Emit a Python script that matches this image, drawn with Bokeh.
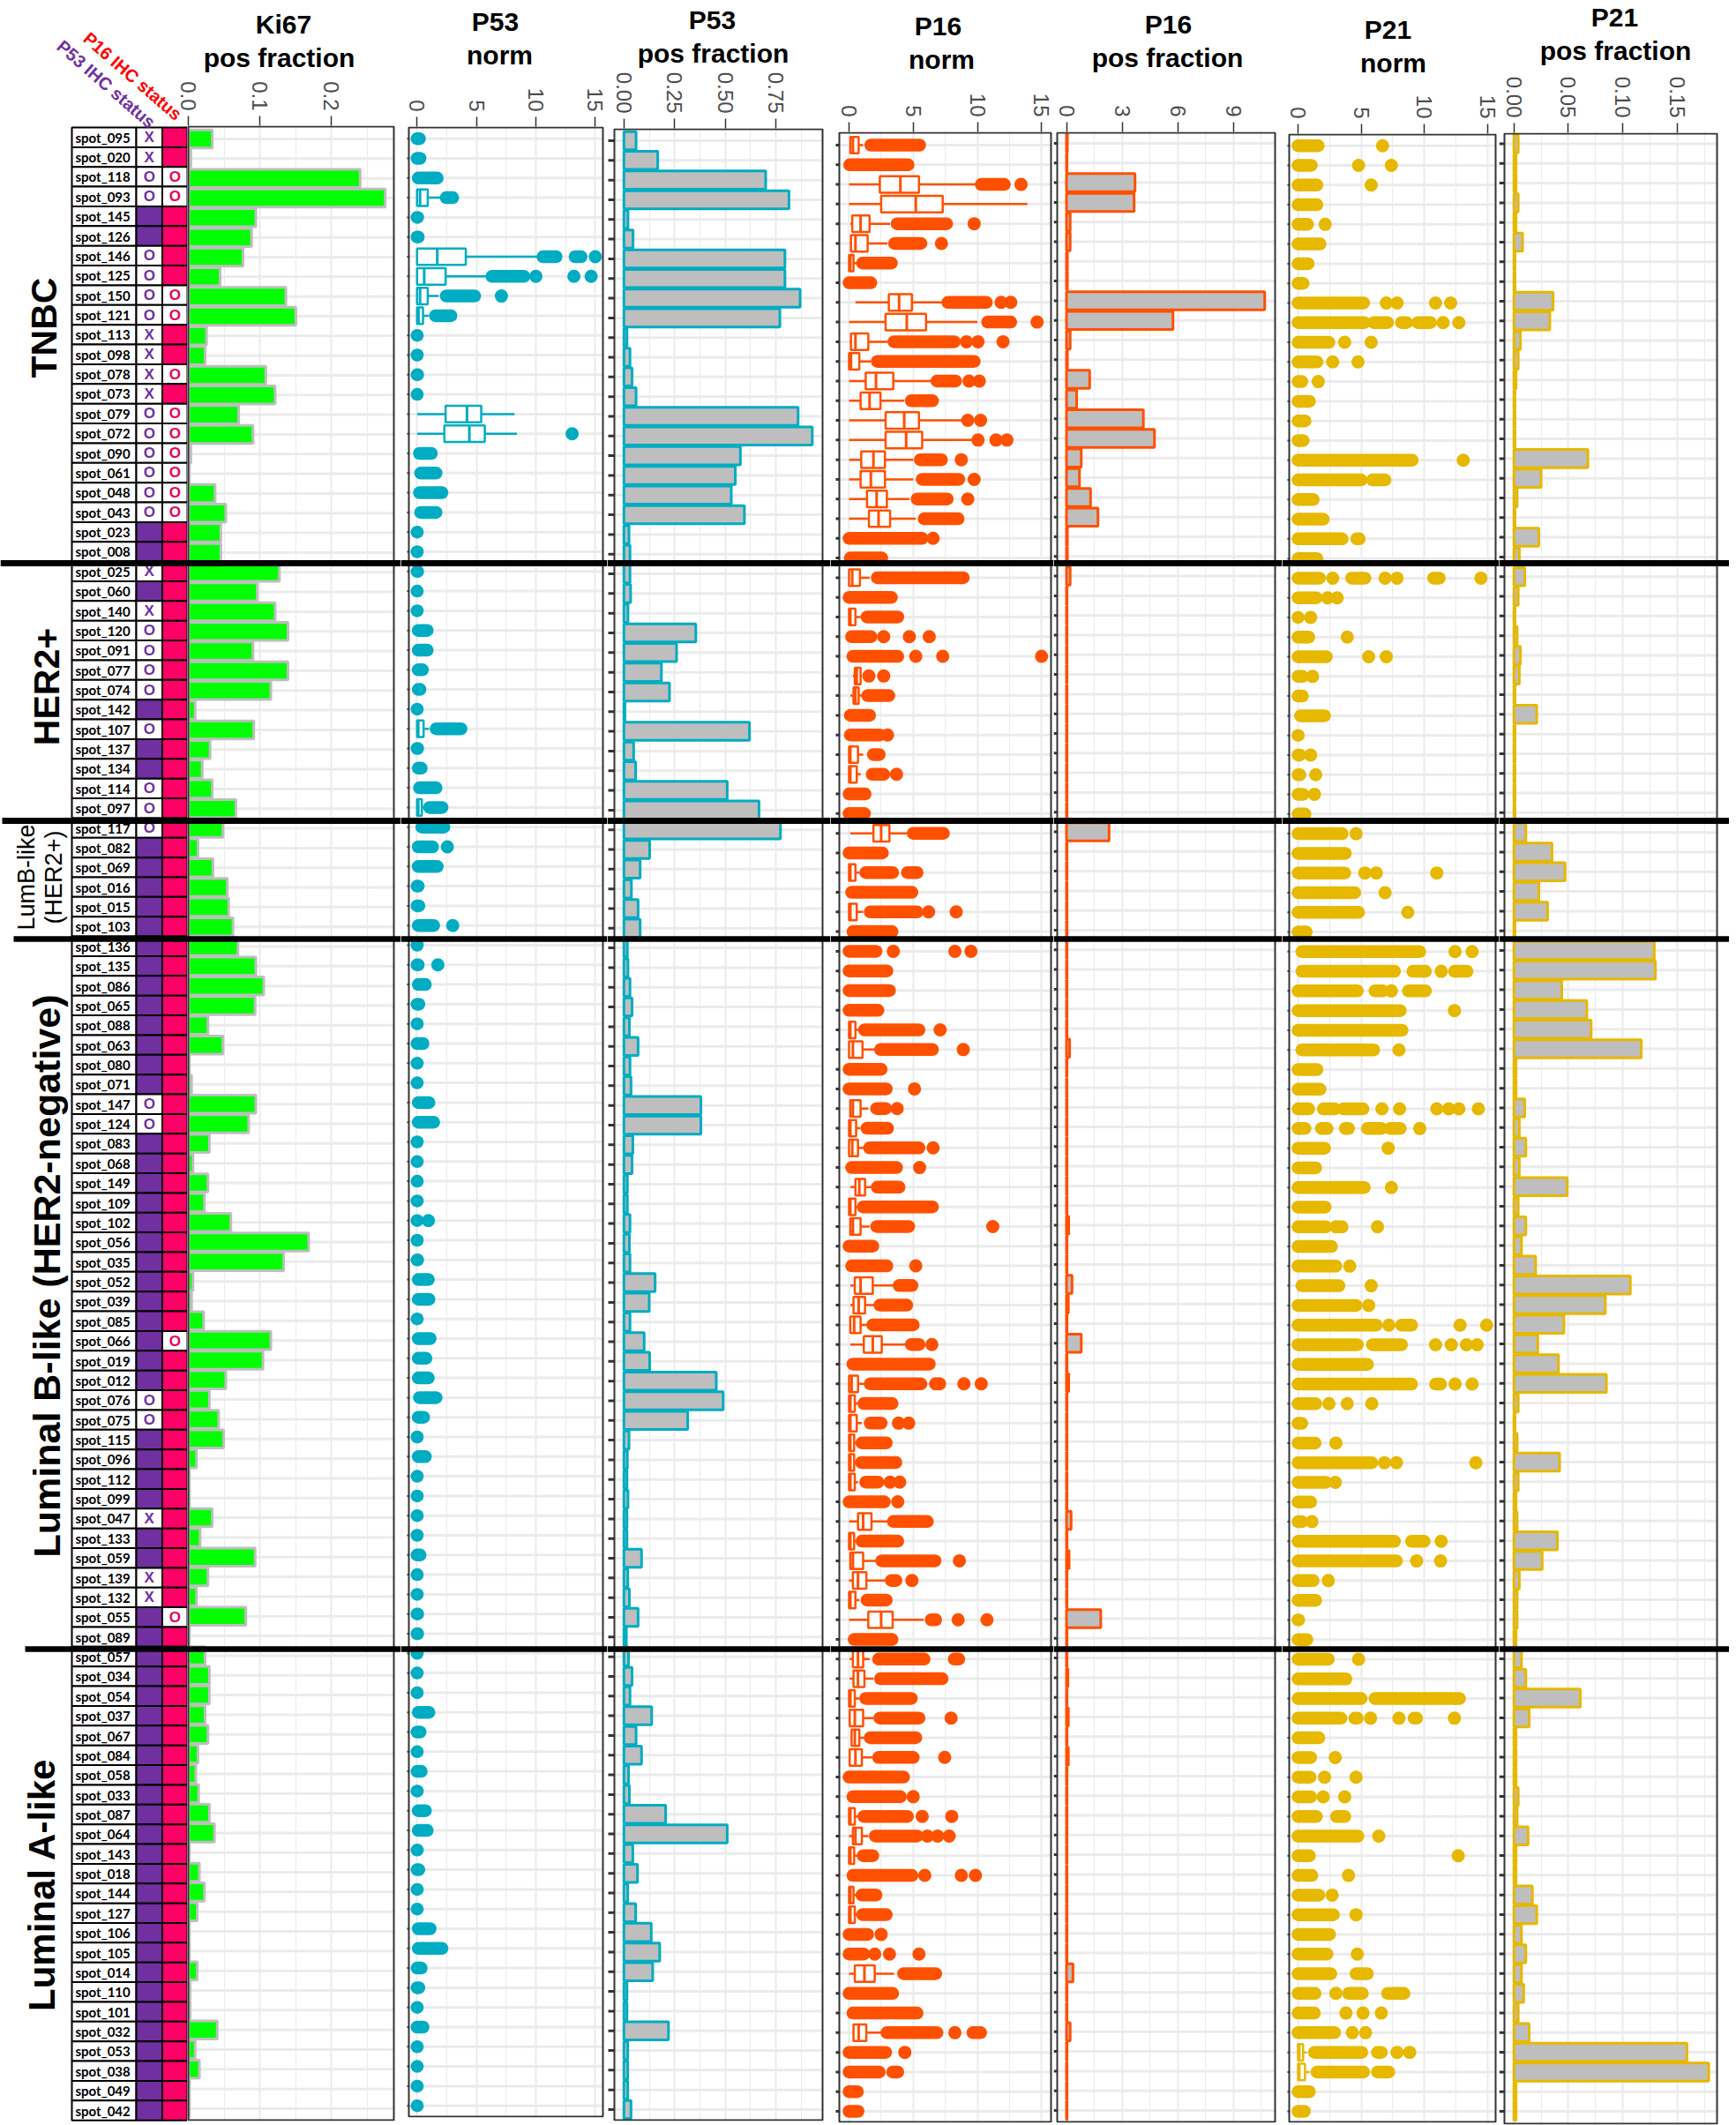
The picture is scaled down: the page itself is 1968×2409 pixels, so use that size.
import math
from bokeh.plotting import figure
from bokeh.layouts import row, column
from bokeh.models import Range1d, FixedTicker, BoxAnnotation
from bokeh.core.properties import value
from bokeh.embed import file_html
from bokeh.resources import INLINE

spots = ["095","020","118","093","145","126","146","125","150","121","113","098","078","073","079","072","090","061","048","043","023","008",
         "025","060","140","120","091","077","074","142","107","137","134","114","097",
         "117","082","069","016","015","103",
         "136","135","086","065","088","063","080","071","147","124","083","068","149","109","102","056","035","052","039","085","066","019","012","076","075","115","096","112","099","047","133","059","139","132","055","089",
         "057","034","054","037","067","084","058","033","087","064","143","018","144","127","106","105","014","110","101","032","053","038","049","042"]

p53_status = {"095":"X","020":"X","118":"O","093":"O","146":"O","125":"O","150":"O","121":"O","113":"X","098":"X","078":"X","073":"X","079":"O","072":"O","090":"O","061":"O","048":"O","043":"O",
              "025":"X","140":"X","120":"O","091":"O","077":"O","074":"O","107":"O","114":"O","097":"O","117":"O","147":"O","124":"O","076":"O","075":"O","047":"X","139":"X","132":"X"}
p16_status = {"118":"O","093":"O","150":"O","121":"O","078":"O","079":"O","072":"O","090":"O","061":"O","048":"O","043":"O","066":"O","055":"O"}

ki67_frac = [.033,.003,.24,.275,.094,.088,.076,.044,.136,.15,.025,.023,.108,.121,.07,.09,.003,.001,.037,.052,.045,.045,
             .127,.096,.121,.139,.09,.139,.115,.009,.091,.03,.019,.033,.066,
             .048,.013,.034,.054,.056,.062,
             .069,.094,.105,.093,.027,.048,.001,.004,.094,.084,.029,.006,.027,.022,.059,.168,.133,.006,.004,.021,.115,.104,.052,.029,.042,.049,.011,.001,.001,.033,.016,.093,.027,.011,.08,.001,
             .023,.029,.029,.023,.027,.013,.01,.014,.029,.036,.001,.015,.022,.012,.001,.001,.012,.002,.002,.04,.009,.015,.001,.001]

p53_frac = [.06,.167,.70,.815,.02,.045,.795,.795,.87,.77,.015,.03,.04,.06,.86,.93,.575,.55,.53,.595,.025,.03,
            .03,.033,.02,.355,.26,.185,.225,.005,.62,.048,.058,.51,.667,
            .773,.127,.08,.037,.07,.08,
            .017,.02,.03,.04,.027,.07,.03,.035,.38,.38,.044,.04,.017,.017,.03,.027,.03,.154,.125,.03,.1,.127,.456,.49,.315,.025,.017,.015,.02,.015,.015,.087,.019,.027,.07,.012,
            .023,.04,.03,.137,.06,.087,.023,.027,.206,.51,.044,.067,.019,.058,.135,.177,.142,.015,.015,.22,.019,.019,.019,.035]

p16_frac = [.05,.03,3.7,3.65,.2,.2,.05,.05,10.7,5.75,.2,.05,1.25,.55,4.15,4.75,.8,.7,1.3,1.7,.05,.05,
            .2,.03,.03,.03,.03,.03,.03,.03,.03,.03,.03,.03,.03,
            2.3,.03,.03,.03,.03,.03,
            .03,.03,.03,.03,.03,.17,.03,.03,.03,.03,.03,.03,.03,.03,.12,.03,.03,.3,.1,.03,.8,.03,.12,.03,.03,.03,.03,.03,.03,.25,.03,.14,.03,.03,1.85,.03,
            .03,.08,.03,.1,.03,.1,.03,.03,.03,.03,.03,.03,.03,.03,.03,.03,.35,.03,.03,.2,.03,.03,.03,.03]

p21_frac = [.004,.002,.002,.004,.002,.008,.001,.001,.036,.033,.006,.004,.002,.001,.001,.001,.068,.025,.003,.001,.023,.005,
            .01,.004,.001,.003,.006,.005,.001,.021,.001,.001,.001,.001,.001,
            .011,.035,.047,.023,.031,.001,
            .129,.13,.044,.067,.071,.117,.002,.002,.01,.005,.011,.005,.049,.004,.011,.007,.02,.107,.084,.046,.022,.041,.085,.004,.001,.003,.042,.004,.002,.003,.04,.026,.005,.003,.003,.002,
            .007,.011,.061,.014,.002,.002,.002,.004,.003,.013,.002,.002,.017,.021,.007,.011,.007,.009,.004,.014,.159,.179,.002,.002]

# (lower whisker, Q1, median, Q3, upper whisker), keyed by row
p53_box = {3:(0,0,.25,.9,2.0),6:(0,0,1.7,4.1,10.4),7:(0,0,.6,2.4,5.8),8:(0,0,.25,.9,1.8),9:(0,0,.12,.5,1.0),14:(0,2.4,4.2,5.4,8.2),15:(0,2.3,4.4,5.7,8.4),
           30:(0,0,.1,.55,1.0),34:(0,0,.1,.4,.6)}
p16_box = {0:(.05,.1,.3,.75,1.1),2:(0,2.4,4.0,5.45,9.9),3:(0,2.5,5.2,7.3,13.9),4:(.1,.25,.9,1.6,3.2),5:(.05,.15,.5,1.45,3.0),6:(0,0,.1,.35,.9),
           8:(.5,3.1,3.9,4.9,7.4),9:(0,2.85,4.5,6.0,10.0),10:(.05,.15,.5,1.5,3.0),11:(0,0,.15,.8,1.7),12:(0,1.3,2.1,3.45,6.6),13:(0,.9,1.6,2.45,4.3),
           14:(0,2.85,4.3,5.45,8.9),15:(0,2.85,4.45,5.7,9.6),16:(0,.95,1.9,2.8,5.0),17:(0,.9,1.7,2.8,5.0),18:(0,1.4,2.15,2.95,4.7),19:(0,1.55,2.3,3.2,5.2),
           22:(0,0,.25,.85,1.6),24:(0,0,.1,.5,.9),27:(.3,.45,.6,.9,1.0),28:(.1,.35,.5,.75,1.0),31:(0,0,.1,.7,1.1),32:(0,0,.1,.6,.9),35:(.1,1.9,2.5,3.15,4.5),
           37:(0,0,.1,.5,.8),39:(0,0,.1,.6,1.1),45:(0,0,.1,.5,.8),46:(0,0,.3,1.05,2.0),49:(.1,.1,.3,.9,1.5),50:(0,0,.1,.55,.9),51:(0,0,.25,.7,1.2),53:(.1,.5,.8,1.25,2.0),
           54:(0,0,.1,.5,.8),55:(.1,.1,.3,.9,1.6),58:(.1,.45,.9,1.85,3.4),59:(.1,.35,.75,1.25,2.1),60:(.1,.1,.4,.9,1.5),61:(.1,1.15,1.85,2.55,4.5),63:(0,0,.2,.7,1.2),
           64:(0,0,.1,.45,.8),65:(0,0,.1,.6,1.0),66:(0,0,.1,.4,.6),67:(0,0,.1,.4,.5),68:(0,0,.1,.45,.7),70:(0,.7,1.1,1.75,3.0),71:(0,0,.1,.4,.7),72:(.1,.1,.3,1.1,2.1),73:(0,.3,.7,1.35,2.9),
           74:(0,0,.1,.5,.8),75:(0,1.5,2.5,3.4,5.8),77:(.05,.3,.7,1.1,1.6),78:(.05,.35,.7,1.2,1.9),79:(0,0,.1,.45,.8),80:(.05,.05,.45,1.1,1.9),81:(.1,.2,.45,.8,1.2),82:(.05,.05,.5,1.0,1.8),
           85:(0,0,.1,.45,.7),86:(0,.3,.5,1.0,1.5),87:(0,0,.1,.4,.7),89:(0,0,.1,.35,.6),90:(0,0,.1,.45,.7),93:(0,.45,1.2,2.0,3.5),96:(.3,.35,.75,1.35,2.5)}
p21_box = {97:(0,0,.1,.4,.7),98:(0,0,.1,.55,.9)}

# outliers by row: a number is one point, a pair is a dense run of points
p53_out = [[(0,.2)],[(0,.25)],[(.1,1.7)],[(2.45,3.0)],[(0,.05)],[(0,.1)],[(10.6,11.7),(13.3,13.8),15],[(6.3,9.0),10,13.2,14.65],[(2.45,4.85),7.1],[(1.55,2.85)],[(0,.02)],[(0,.02)],[(0,.05)],[(0,.02)],[],[13.05],
           [(.2,1.2)],[(.3,1.6)],[(.2,2.1)],[(.3,1.6)],[(0,.02)],[(0,.02)],
           [(0,.05)],[(0,.02)],[(0,.02)],[(.1,.85)],[(.1,.85)],[(.1,.45)],[(.1,.25)],[(0,.02)],[(1.6,3.7)],[(0,.05)],[(.1,.35)],[(.2,1.6)],[(1.05,2.1)],
           [(.4,2.25)],[(.1,1.3),2.55],[(.1,1.7)],[(0,.1)],[(0,.15)],[(.1,1.4),3.0],
           [(0,.02)],[(0,.1),1.75],[(.1,.7)],[(0,.15)],[(0,.02)],[(0,.5)],[(0,.02)],[(0,.02)],[(.1,1.0)],[(.1,1.4)],[(0,.02)],[(0,.02)],[(0,.02)],[(0,.02)],[(0,.02),.95],[(0,.02)],[(0,.05)],[(.1,.95)],[(.1,1.0)],[(0,.02)],[(.1,1.1)],[(.1,.75)],[(.1,.95)],[(.2,1.6)],[(.1,.55)],[(0,.02)],[(.1,.7)],[(0,.02)],[(0,.02)],[(0,.02)],[(0,.02)],[(0,.25)],[(0,.02)],[(0,.02)],[(0,.05)],[(0,.05)],
           [(0,.02)],[(0,.02)],[(0,.02)],[(.1,1.0)],[(0,.25)],[(0,.02)],[(0,.35)],[(0,.02)],[(.1,.7)],[(.1,.85)],[(0,.02)],[(0,.15)],[(0,.02)],[(0,.02)],[(.1,1.1)],[(.1,2.1)],[(0,.35)],[(0,.15)],[(0,.02)],[(0,.5)],[(0,.02)],[(0,.02)],[(0,.02)],[(0,.02)]]

p16_out = [[(1.7,5.5)],[(.05,4.6)],[(10.3,12.1),13.4],[],[(3.75,7.6),9.75],[(3.55,5.6),7.2],[(1.05,3.3)],[(0,1.7)],[(7.7,10.7),11.85,12.6],[(10.8,12.6),14.65],[(3.5,8.2),9.15,10.05,12.0],[(2.2,9.75)],[(6.85,8.3),9.35,10.15],[(4.85,6.5)],[9.25,10.25],[10.05,11.45,12.3],[(5.55,7.2),8.75],[(5.7,8.55),9.75],[(5.3,7.65),9.25],[(5.85,8.5)],[(0,5.7),6.55],[(.1,2.55)],
           [(2.2,8.9)],[(0,3.3)],[(1.4,3.8)],[(.2,1.7),2.7,4.7,6.25],[(.3,3.8),5.2,7.3,15.0],[1.55,2.7],[(1.45,3.1)],[(.1,1.6)],[(.1,2.4),3.0],[(1.9,2.35)],[(1.8,2.7),3.7],[(0,1.25)],[(0,1.2)],
           [(5.0,7.35)],[(0,2.6)],[(1.3,3.4),(4.55,5.3)],[(.2,4.9)],[(1.65,5.3),6.2,8.35],[(.3,3.35)],
           [(0,2.1),3.45,8.25,9.5],[(0,2.95)],[(0,3.15)],[(0,2.25)],[(1.2,5.45),7.1],[(2.45,6.5),8.9],[(0,2.5)],[(0,2.9),5.1],[(2.15,2.85),3.75],[(1.4,3.0)],[(1.6,5.45),6.55],[(.2,3.7),5.5],[(2.2,3.9)],[(1.1,6.5)],[(2.15,4.65),11.2],[(0,1.85)],[(.2,2.95),5.2],[(3.9,4.9)],[(2.4,4.5)],[(1.85,5.0)],[(4.85,5.45),6.45],[(.3,6.25)],[(1.65,5.6),6.75,7.05,8.95,10.3],[(1.15,3.35)],[(1.65,2.5),3.85,4.65],[(1.0,2.9)],[(.95,3.65)],[(1.3,2.25),3.2,3.95],[(0,2.75),3.8],[(3.45,6.1)],[(1.0,3.8)],[(2.55,6.7),8.6],[(3.3,3.65),4.9],[(1.4,2.9)],[(6.4,6.75),8.5,10.75],[(.4,3.35)],
           [(2.3,5.85),(8.2,8.55)],[(2.45,7.25)],[(1.3,4.85)],[(2.4,5.45),7.95],[(1.65,5.2)],[(2.3,5.0),7.45],[(0,4.25)],[(.3,4.0),5.0],[(1.15,4.55),5.7,8.0],[(2.05,5.3),6.1,6.9,7.8],[(1.1,1.85)],[(.3,4.9),5.9,8.75,9.85],[(1.0,2.1)],[(1.05,2.9)],[(0,1.45),2.5],[(0,1.15),2.0,3.15,5.45],[(4.25,6.75)],[(0,3.4)],[(.3,5.3)],[(2.95,6.85),8.25,(9.65,10.25)],[(0,2.85),4.35],[(0,2.35),(3.4,3.8)],[(0,.65)],[(0,.7)]]

p21_out = [[(0,1.6),6.7],[(0,1.05),4.8,7.4],[(0,1.5),5.8],[(0,1.5)],[(0,.75),2.15],[(0,1.75)],[(0,.8)],[(0,.4)],[(0,5.2),7.0,7.85,10.9,12.1],[(0,5.25),(6.0,7.1),(8.2,8.6),(9.5,10.5),11.5,12.75],[(0,2.45),3.7,5.8],[(0,1.5),2.75,4.75],[(0,.3),1.6],[(0,.9)],[(0,.55)],[(0,.4)],[(0,9.05),13.1],[(0,5.0),(5.9,6.9)],[(0,1.2)],[(0,2.0)],[(0,3.5),(4.65,4.85)],[(0,1.5)],
           [(0,1.7),2.75,(4.25,5.3),6.9,7.85,(10.75,11.2),14.5],[(0,1.45),2.35,3.1],[(0,.02),1.0],[(0,.85),3.9],[(0,2.25),5.6,7.0],[(0,.35),1.15],[(0,.35)],[(.2,2.1)],[(0,.02)],[(0,.15),1.0],[(0,.15),1.4],[(0,.4),1.3],[(0,.55)],
           [(0,3.5),4.6],[(0,3.75)],[(0,3.7),5.3,6.2,11.0],[(0,4.5),6.9],[(0,4.8),8.7],[(0,.65)],
           [(.3,9.65),12.45,13.8],[(.3,7.65),(9.1,10.1),11.35,(12.4,13.4)],[(0,4.7),(6.1,6.7),7.4,(8.75,10.1)],[(0,8.1),12.4],[(0,8.25)],[(.3,6.0),8.0],[(0,1.5)],[(0,1.75)],[(0,.85),(2.0,2.9),(3.6,5.15),6.65,8.05,11.0,11.95,12.75,14.3],[(0,.55),(1.85,2.3),(3.75,4.0),(5.5,6.6),(7.3,8.1),9.65],[(0,2.1),7.15],[(0,1.4)],[(0,5.25),7.4],[(0,2.15)],[(0,2.2),3.0,(3.2,3.5),6.3],[(0,2.65)],[(0,3.0),4.1],[(.3,3.25),5.8],[(0,4.6),5.6],[(0,6.2),7.2,(8.2,9.0),12.85,14.95],[(0,4.7),(5.9,8.2),10.9,12.15,13.35,14.2],[(0,5.5)],[(0,9.0),(10.9,11.3),12.45,13.8],[(0,1.4),2.45,3.9,5.85],[(0,.3)],[(0,1.35),3.0],[(0,5.85),6.85,7.8,14.1],[(0,2.2),2.95],[(0,1.0)],[(0,.3),1.1],[(0,7.65),(9.0,10.0),11.35],[(0,7.8),9.4,11.3],[(0,1.2),2.4],[(0,1.4)],[(0,.05)],[(0,.7)],
           [(0,2.4),4.8],[(0,3.8)],[(0,5.0),(6.1,12.8)],[(0,3.4),(4.5,4.7),5.75,8.0,(9.2,9.4),12.4],[(0,1.65)],[(0,1.0),2.95],[(0,.95),2.1,4.6],[(0,1.0),2.0,3.7],[(0,1.45),(3.05,3.7)],[(0,4.75),6.4],[(0,.9),12.7],[(0,1.1),4.0],[(0,1.65),2.7],[(0,2.8),4.6],[(0,2.5)],[(0,2.3),4.7],[(0,2.6),(4.6,5.5)],[(0,1.35),3.0,(4.0,5.1),(7.1,8.4)],[(0,1.3),3.8,5.15,6.6],[(0,2.9),4.3,5.35],[(1.3,5.05),(6.3,6.6),7.85,8.85],[(1.5,5.2),(6.3,7.2)],[(0,.9)],[(0,.5)]]

assert all(len(a) == 101 for a in [spots, ki67_frac, p53_frac, p16_frac, p21_frac, p53_out, p16_out, p21_out])

GREEN, GRAY, TEAL, ORANGE, GOLD = "#00ff00", "#bebebe", "#00acc1", "#ff5000", "#e6b800"
PURPLE, PINK = "#7030a0", "#ff0066"
GRID = "#ebebeb"
HEIGHT = 2409
HEAD = 100        # height of the headings' strip
PANEL_TOP = 50    # the panels' canvases start here and are transparent above their frames
PANEL_LEFT = 196  # the first panel's canvas reaches back over the table, to keep its "0.0" whole
RULES = [(638, 0, 7), (930, 2, 7), (1064, 15, 6.5), (1869, 28, 6.5)]   # page y, page x of the left end, thickness


def panel(cl, cr, fl, fr, ft, fb, x0, ppu, r0, r100, ticks, minors, labels, tick_len, tick_w, cover_left=True):
    """One panel: its frame is as wide as its column, so the rules cross the gaps."""
    pitch = (r100 - r0) / 100
    top, bot = ft - 1, fb + 1
    p = figure(width=cr - cl, height=HEIGHT - PANEL_TOP,
               x_range=Range1d((cl - x0) / ppu, (cr - x0) / ppu),
               y_range=Range1d((bot - r0) / pitch, (top - r0) / pitch),
               x_axis_location="above", y_axis_type=None,
               toolbar_location=None, output_backend="svg",
               min_border_left=0, min_border_right=0,
               min_border_top=top - PANEL_TOP, min_border_bottom=HEIGHT - bot,
               background_fill_color=None, border_fill_color=None, frame_align=False)
    p.outline_line_color = None
    ax = p.xaxis[0]
    ax.ticker = FixedTicker(ticks=ticks, minor_ticks=minors)
    ax.major_label_overrides = {t: l for t, l in zip(ticks, labels)}
    ax.major_label_orientation = -math.pi / 2
    ax.major_label_text_font = "Liberation Sans"
    ax.major_label_text_font_size = "24px"
    ax.major_label_text_color = "#4d4d4d"
    ax.major_label_standoff = 6
    ax.axis_line_color = None
    ax.major_tick_line_color = "#333333"
    ax.major_tick_line_width = 1.5
    ax.major_tick_out = 11
    ax.major_tick_in = 0
    ax.minor_tick_line_color = None
    p.xgrid.grid_line_color = GRID
    p.xgrid.grid_line_width = 2
    p.xgrid.minor_grid_line_color = GRID
    p.xgrid.minor_grid_line_width = 1
    xl, xr = (fl - x0) / ppu, (fr - x0) / ppu
    rows_ = list(range(101))
    # cover the grid in the gaps on either side of the panel
    if cover_left:
        p.quad(left=(cl - x0) / ppu, right=xl, top=(top - r0) / pitch, bottom=(bot - r0) / pitch,
               fill_color="white", line_color=None, level="underlay")
    p.quad(left=xr, right=(cr - x0) / ppu, top=(top - r0) / pitch, bottom=(bot - r0) / pitch,
           fill_color="white", line_color=None, level="underlay")
    p.segment(x0=[xl] * 101, x1=[xr] * 101, y0=rows_, y1=rows_, line_color=GRID, line_width=3)
    if tick_len:
        p.segment(x0=[(fl - tick_len - x0) / ppu] * 101, x1=[xl] * 101, y0=rows_, y1=rows_,
                  line_color="#333333", line_width=tick_w)
    frame = dict(left=xl, right=xr, top=(ft - r0) / pitch, bottom=(fb - r0) / pitch)
    return p, frame


def finish(p, frame):
    p.quad(fill_color=None, line_color="#333333", line_width=2, **frame)
    for y, _, th in RULES:
        p.add_layout(BoxAnnotation(top=y - th / 2 - PANEL_TOP, bottom=y + th / 2 - PANEL_TOP,
                                   top_units="canvas", bottom_units="canvas",
                                   fill_color="black", fill_alpha=1, line_color=None, level="overlay"))


def bars(p, vals, fill, line, lw=3):
    p.hbar(y=list(range(len(vals))), left=0, right=vals, height=0.92,
           fill_color=fill, line_color=line, line_width=lw)


def boxes(p, box, outs, color):
    ys = list(box)
    st = [box[k] for k in ys]
    p.segment(x0=[s[0] for s in st], x1=[s[4] for s in st], y0=ys, y1=ys, line_color=color, line_width=2.5)
    p.quad(left=[s[1] for s in st], right=[s[3] for s in st],
           top=[y - .42 for y in ys], bottom=[y + .42 for y in ys],
           fill_color="white", line_color=color, line_width=2.5)
    p.segment(x0=[s[2] for s in st], x1=[s[2] for s in st],
              y0=[y - .42 for y in ys], y1=[y + .42 for y in ys], line_color=color, line_width=3)
    sx0, sx1, sy, dx, dy = [], [], [], [], []
    for i, items in enumerate(outs):
        for it in items:
            if isinstance(it, tuple):
                sx0.append(it[0]); sx1.append(it[1]); sy.append(i)
            else:
                dx.append(it); dy.append(i)
    p.segment(x0=sx0, x1=sx1, y0=sy, y1=sy, line_color=color, line_width=14.5, line_cap="round")
    p.scatter(x=dx, y=dy, size=15, marker="circle", fill_color=color, line_color=color, line_width=0)


# ---- left column: table, group names, legends ----
col_edges = [81, 154, 183.5, 212]
r0_t, r100_t = 155.2, 2392.0
pitch_t = (r100_t - r0_t) / 100
pt = figure(width=212, height=HEIGHT, x_range=Range1d(0, 212),
            y_range=Range1d((HEIGHT - r0_t) / pitch_t, -r0_t / pitch_t),
            x_axis_type=None, y_axis_type=None, toolbar_location=None, output_backend="svg",
            min_border_left=0, min_border_right=0, min_border_top=0, min_border_bottom=0,
            border_fill_color="white", frame_align=False)
pt.outline_line_color = None
n = len(spots)
rows = list(range(n))
pt.quad(left=col_edges[0], right=col_edges[1], top=[r - .5 for r in rows], bottom=[r + .5 for r in rows],
        fill_color="white", line_color="black", line_width=2)
pt.quad(left=col_edges[1], right=col_edges[2], top=[r - .5 for r in rows], bottom=[r + .5 for r in rows],
        fill_color=["white" if s in p53_status else PURPLE for s in spots], line_color="black", line_width=2)
pt.quad(left=col_edges[2], right=col_edges[3], top=[r - .5 for r in rows], bottom=[r + .5 for r in rows],
        fill_color=["white" if s in p16_status else PINK for s in spots], line_color="black", line_width=2)
pt.text(x=[85] * n, y=rows, text=["spot_" + s for s in spots], text_font=value("Lato"), text_font_style="bold",
        text_font_size="15px", text_baseline="middle", text_align="left", text_color="black")
k53 = [(i, p53_status[s]) for i, s in enumerate(spots) if s in p53_status]
k16 = [(i, p16_status[s]) for i, s in enumerate(spots) if s in p16_status]
pt.text(x=[(col_edges[1] + col_edges[2]) / 2] * len(k53), y=[a for a, _ in k53], text=[b for _, b in k53],
        text_font=value("Liberation Sans"), text_font_style="bold", text_font_size="17px",
        text_align="center", text_baseline="middle", text_color=PURPLE)
pt.text(x=[(col_edges[2] + col_edges[3]) / 2] * len(k16), y=[a for a, _ in k16], text=[b for _, b in k16],
        text_font=value("Liberation Sans"), text_font_style="bold", text_font_size="17px",
        text_align="center", text_baseline="middle", text_color="#e6005c")
for txt, cx, cy, size, bold, col, ang in [
        ("TNBC", 49, 371, "41px", True, "black", 90), ("HER2+", 52, 778, "41px", True, "black", 90),
        ("LumB-like", 29, 994, "27px", False, "black", 90), ("(HER2+)", 60, 994, "27px", False, "black", 90),
        ("Luminal B-like (HER2-negative)", 52, 1446, "43px", True, "black", 90),
        ("Luminal A-like", 47, 2136, "42px", True, "black", 90),
        ("P16 IHC status", 150, 86, "20px", True, "#ff0000", -41),
        ("P53 IHC status", 120, 95, "20px", True, PURPLE, -41)]:
    pt.text(x=[cx], y=[(cy - r0_t) / pitch_t], text=[txt], angle=ang, angle_units="deg",
            text_font=value("Liberation Sans"), text_font_style="bold" if bold else "normal",
            text_font_size=size, text_align="center", text_baseline="middle", text_color=col)
for y, xs, th in RULES:
    pt.add_layout(BoxAnnotation(left=xs, top=y - th / 2, bottom=y + th / 2,
                                left_units="canvas", top_units="canvas", bottom_units="canvas",
                                fill_color="black", fill_alpha=1, line_color=None, level="overlay"))

# ---- headings ----
head_x = [321, 316, 561, 566, 807, 808, 1063, 1067, 1324, 1323, 1573, 1579, 1830, 1831]
head_y = [27, 65, 24, 62, 22, 60, 29, 67, 27, 65, 33, 71, 19, 57]
head_t = ["Ki67", "pos fraction", "P53", "norm", "P53", "pos fraction", "P16", "norm",
          "P16", "pos fraction", "P21", "norm", "P21", "pos fraction"]
ph = figure(width=1960 - 212, height=HEAD, x_range=Range1d(212, 1960), y_range=Range1d(HEAD, 0),
            x_axis_type=None, y_axis_type=None, toolbar_location=None, output_backend="svg",
            min_border_left=0, min_border_right=0, min_border_top=0, min_border_bottom=0,
            border_fill_color="white", frame_align=False)
ph.outline_line_color = None
ph.text(x=head_x, y=head_y, text=head_t, text_font=value("Liberation Sans"), text_font_style="bold",
        text_font_size="30px", text_align="center", text_baseline="middle", text_color="black")

figs = []
# ---- Ki67 pos fraction ----
p, fr = panel(PANEL_LEFT, 454, 213, 446, 143, 2403, 213.4, 810, 157, 2390, [0, .1, .2], [.05, .15, .25], ["0.0", "0.1", "0.2"], 0, 0, cover_left=False)
bars(p, ki67_frac, GREEN, GRAY); finish(p, fr); figs.append(p)
# ---- P53 norm ----
p, fr = panel(454, 688, 463, 683, 144, 2399, 472.3, 13.47, 156.7, 2386.7, [0, 5, 10, 15], [2.5, 7.5, 12.5], ["0", "5", "10", "15"], 2, 2)
boxes(p, p53_box, p53_out, TEAL); finish(p, fr); figs.append(p)
# ---- P53 pos fraction ----
p, fr = panel(688, 941, 696, 932, 146, 2403, 706.8, 229.6, 159, 2391, [0, .25, .5, .75], [.125, .375, .625, .875], ["0.00", "0.25", "0.50", "0.75"], 7, 3)
bars(p, p53_frac, GRAY, TEAL); finish(p, fr); figs.append(p)
# ---- P16 norm ----
p, fr = panel(941, 1194, 951, 1191, 150, 2405, 962, 14.55, 164, 2393, [0, 5, 10, 15], [2.5, 7.5, 12.5], ["0", "5", "10", "15"], 4, 3)
boxes(p, p16_box, p16_out, ORANGE); finish(p, fr); figs.append(p)
# ---- P16 pos fraction ----
p, fr = panel(1194, 1453, 1198, 1445, 150, 2405, 1208.5, 21.0, 162, 2392, [0, 3, 6, 9], [1.5, 4.5, 7.5, 10.5], ["0", "3", "6", "9"], 4, 3)
bars(p, p16_frac, GRAY, ORANGE); finish(p, fr); figs.append(p)
# ---- P21 norm ----
p, fr = panel(1453, 1699, 1461, 1695, 152, 2405, 1471, 14.3, 164.7, 2393, [0, 5, 10, 15], [2.5, 7.5, 12.5], ["0", "5", "10", "15"], 2, 2)
boxes(p, p21_box, p21_out, GOLD); finish(p, fr); figs.append(p)
# ---- P21 pos fraction ----
p, fr = panel(1699, 1960, 1705, 1946, 151, 2407, 1715.7, 1234, 162.5, 2393, [0, .05, .1, .15], [.025, .075, .125, .175], ["0.00", "0.05", "0.10", "0.15"], 6, 3)
bars(p, p21_frac, GRAY, GOLD); finish(p, fr); figs.append(p)

panels = row(*figs, spacing=0, margin=(PANEL_TOP - HEAD, 0, 0, PANEL_LEFT - 212))
layout = row(pt, column(ph, panels, spacing=0), spacing=0)
open("out.html", "w").write(file_html(layout, INLINE))
